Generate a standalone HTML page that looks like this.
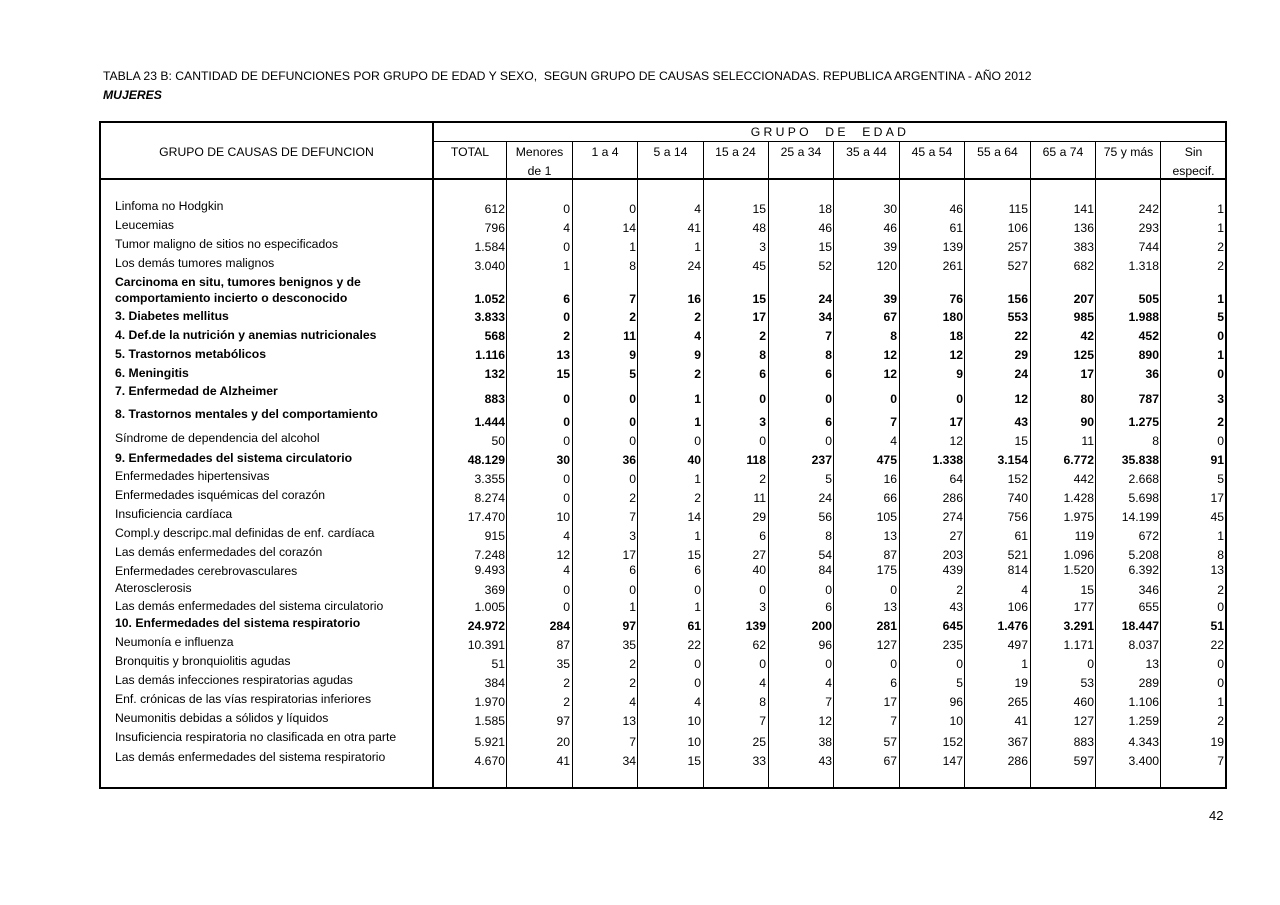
<!DOCTYPE html>
<html><head><meta charset="utf-8"><style>
body{margin:0;width:1280px;height:905px;background:#fff;position:relative;font-family:"Liberation Sans",sans-serif;font-size:12.2px;color:#000;overflow:hidden}
div{position:absolute}
.h{height:1px;background:#000}.v{width:1px;background:#000}
.t{white-space:nowrap;line-height:14px}
.l{left:115px}
.n span{position:absolute;text-align:right;white-space:nowrap;line-height:14px}
.b{font-weight:bold}
.n span:nth-child(1){left:433px;width:72px}
.n span:nth-child(2){left:507px;width:63px}
.n span:nth-child(3){left:572px;width:64px}
.n span:nth-child(4){left:638px;width:63px}
.n span:nth-child(5){left:703px;width:63px}
.n span:nth-child(6){left:768px;width:64px}
.n span:nth-child(7){left:834px;width:63px}
.n span:nth-child(8){left:899px;width:64px}
.n span:nth-child(9){left:965px;width:63px}
.n span:nth-child(10){left:1030px;width:64px}
.n span:nth-child(11){left:1096px;width:63px}
.n span:nth-child(12){left:1161px;width:63px}
.hc{text-align:center;line-height:14px}
</style></head><body>
<div class="t" style="left:103px;top:69px">TABLA 23 B: CANTIDAD DE DEFUNCIONES POR GRUPO DE EDAD Y SEXO,&nbsp; SEGUN GRUPO DE CAUSAS SELECCIONADAS. REPUBLICA ARGENTINA - AÑO 2012</div>
<div class="t" style="left:103px;top:88px;font-weight:bold;font-style:italic">MUJERES</div>

<div class="h" style="left:99px;top:121px;width:1128px;height:2px"></div>
<div class="h" style="left:433px;top:141px;width:794px"></div>
<div class="h" style="left:99px;top:178px;width:1128px;height:2px"></div>
<div class="h" style="left:99px;top:787px;width:1128px;height:2px"></div>
<div class="v" style="left:99px;top:121px;height:668px;width:2px"></div>
<div class="v" style="left:1225px;top:121px;height:668px;width:2px"></div>
<div class="v" style="left:432px;top:121px;height:668px;width:2px"></div>
<div class="v" style="left:506px;top:141px;height:647px"></div>
<div class="v" style="left:572px;top:141px;height:647px"></div>
<div class="v" style="left:637px;top:141px;height:647px"></div>
<div class="v" style="left:703px;top:141px;height:647px"></div>
<div class="v" style="left:768px;top:141px;height:647px"></div>
<div class="v" style="left:833px;top:141px;height:647px"></div>
<div class="v" style="left:899px;top:141px;height:647px"></div>
<div class="v" style="left:964px;top:141px;height:647px"></div>
<div class="v" style="left:1030px;top:141px;height:647px"></div>
<div class="v" style="left:1095px;top:141px;height:647px"></div>
<div class="v" style="left:1160px;top:141px;height:647px"></div>

<div class="hc" style="left:433px;width:794px;top:125px;letter-spacing:3.3px">GRUPO&nbsp; DE&nbsp; EDAD</div>
<div class="hc" style="left:100px;width:333px;top:145px">GRUPO DE CAUSAS DE DEFUNCION</div>
<div class="hc" style="left:433px;width:74px;top:145px">TOTAL</div>
<div class="hc" style="left:507px;width:65px;top:145px">Menores</div>
<div class="hc" style="left:507px;width:65px;top:164px">de 1</div>
<div class="hc" style="left:572px;width:66px;top:145px">1 a 4</div>
<div class="hc" style="left:638px;width:65px;top:145px">5 a 14</div>
<div class="hc" style="left:703px;width:65px;top:145px">15 a 24</div>
<div class="hc" style="left:768px;width:66px;top:145px">25 a 34</div>
<div class="hc" style="left:834px;width:65px;top:145px">35 a 44</div>
<div class="hc" style="left:899px;width:66px;top:145px">45 a 54</div>
<div class="hc" style="left:965px;width:65px;top:145px">55 a 64</div>
<div class="hc" style="left:1030px;width:66px;top:145px">65 a 74</div>
<div class="hc" style="left:1096px;width:65px;top:145px">75 y más</div>
<div class="hc" style="left:1161px;width:65px;top:145px">Sin</div>
<div class="hc" style="left:1161px;width:65px;top:164px">especif.</div>

<div class="t l" style="top:199px">Linfoma no Hodgkin</div>
<div class="n" style="top:202px"><span>612</span><span>0</span><span>0</span><span>4</span><span>15</span><span>18</span><span>30</span><span>46</span><span>115</span><span>141</span><span>242</span><span>1</span></div>
<div class="t l" style="top:218px">Leucemias</div>
<div class="n" style="top:221px"><span>796</span><span>4</span><span>14</span><span>41</span><span>48</span><span>46</span><span>46</span><span>61</span><span>106</span><span>136</span><span>293</span><span>1</span></div>
<div class="t l" style="top:237px">Tumor maligno de sitios no especificados</div>
<div class="n" style="top:240px"><span>1.584</span><span>0</span><span>1</span><span>1</span><span>3</span><span>15</span><span>39</span><span>139</span><span>257</span><span>383</span><span>744</span><span>2</span></div>
<div class="t l" style="top:256px">Los demás tumores malignos</div>
<div class="n" style="top:259px"><span>3.040</span><span>1</span><span>8</span><span>24</span><span>45</span><span>52</span><span>120</span><span>261</span><span>527</span><span>682</span><span>1.318</span><span>2</span></div>
<div class="t l b" style="top:275px">Carcinoma en situ, tumores benignos y de</div>
<div class="t l b" style="top:291px">comportamiento incierto o desconocido</div>
<div class="n b" style="top:292px"><span>1.052</span><span>6</span><span>7</span><span>16</span><span>15</span><span>24</span><span>39</span><span>76</span><span>156</span><span>207</span><span>505</span><span>1</span></div>
<div class="t l b" style="top:309px">3. Diabetes mellitus</div>
<div class="n b" style="top:310px"><span>3.833</span><span>0</span><span>2</span><span>2</span><span>17</span><span>34</span><span>67</span><span>180</span><span>553</span><span>985</span><span>1.988</span><span>5</span></div>
<div class="t l b" style="top:328px">4. Def.de la nutrición y anemias nutricionales</div>
<div class="n b" style="top:329px"><span>568</span><span>2</span><span>11</span><span>4</span><span>2</span><span>7</span><span>8</span><span>18</span><span>22</span><span>42</span><span>452</span><span>0</span></div>
<div class="t l b" style="top:347px">5. Trastornos metabólicos</div>
<div class="n b" style="top:348px"><span>1.116</span><span>13</span><span>9</span><span>9</span><span>8</span><span>8</span><span>12</span><span>12</span><span>29</span><span>125</span><span>890</span><span>1</span></div>
<div class="t l b" style="top:366px">6. Meningitis</div>
<div class="n b" style="top:367px"><span>132</span><span>15</span><span>5</span><span>2</span><span>6</span><span>6</span><span>12</span><span>9</span><span>24</span><span>17</span><span>36</span><span>0</span></div>
<div class="t l b" style="top:384px">7. Enfermedad de Alzheimer</div>
<div class="n b" style="top:392px"><span>883</span><span>0</span><span>0</span><span>1</span><span>0</span><span>0</span><span>0</span><span>0</span><span>12</span><span>80</span><span>787</span><span>3</span></div>
<div class="t l b" style="top:407px">8. Trastornos mentales y del comportamiento</div>
<div class="n b" style="top:415px"><span>1.444</span><span>0</span><span>0</span><span>1</span><span>3</span><span>6</span><span>7</span><span>17</span><span>43</span><span>90</span><span>1.275</span><span>2</span></div>
<div class="t l" style="top:431px">Síndrome de dependencia del alcohol</div>
<div class="n" style="top:434px"><span>50</span><span>0</span><span>0</span><span>0</span><span>0</span><span>0</span><span>4</span><span>12</span><span>15</span><span>11</span><span>8</span><span>0</span></div>
<div class="t l b" style="top:451px">9. Enfermedades del sistema circulatorio</div>
<div class="n b" style="top:453px"><span>48.129</span><span>30</span><span>36</span><span>40</span><span>118</span><span>237</span><span>475</span><span>1.338</span><span>3.154</span><span>6.772</span><span>35.838</span><span>91</span></div>
<div class="t l" style="top:469px">Enfermedades hipertensivas</div>
<div class="n" style="top:472px"><span>3.355</span><span>0</span><span>0</span><span>1</span><span>2</span><span>5</span><span>16</span><span>64</span><span>152</span><span>442</span><span>2.668</span><span>5</span></div>
<div class="t l" style="top:488px">Enfermedades isquémicas del corazón</div>
<div class="n" style="top:491px"><span>8.274</span><span>0</span><span>2</span><span>2</span><span>11</span><span>24</span><span>66</span><span>286</span><span>740</span><span>1.428</span><span>5.698</span><span>17</span></div>
<div class="t l" style="top:507px">Insuficiencia cardíaca</div>
<div class="n" style="top:510px"><span>17.470</span><span>10</span><span>7</span><span>14</span><span>29</span><span>56</span><span>105</span><span>274</span><span>756</span><span>1.975</span><span>14.199</span><span>45</span></div>
<div class="t l" style="top:526px">Compl.y descripc.mal definidas de enf. cardíaca</div>
<div class="n" style="top:529px"><span>915</span><span>4</span><span>3</span><span>1</span><span>6</span><span>8</span><span>13</span><span>27</span><span>61</span><span>119</span><span>672</span><span>1</span></div>
<div class="t l" style="top:545px">Las demás enfermedades del corazón</div>
<div class="n" style="top:548px"><span>7.248</span><span>12</span><span>17</span><span>15</span><span>27</span><span>54</span><span>87</span><span>203</span><span>521</span><span>1.096</span><span>5.208</span><span>8</span></div>
<div class="t l" style="top:564px">Enfermedades cerebrovasculares</div>
<div class="n" style="top:563px"><span>9.493</span><span>4</span><span>6</span><span>6</span><span>40</span><span>84</span><span>175</span><span>439</span><span>814</span><span>1.520</span><span>6.392</span><span>13</span></div>
<div class="t l" style="top:581px">Aterosclerosis</div>
<div class="n" style="top:583px"><span>369</span><span>0</span><span>0</span><span>0</span><span>0</span><span>0</span><span>0</span><span>2</span><span>4</span><span>15</span><span>346</span><span>2</span></div>
<div class="t l" style="top:599px">Las demás enfermedades del sistema circulatorio</div>
<div class="n" style="top:600px"><span>1.005</span><span>0</span><span>1</span><span>1</span><span>3</span><span>6</span><span>13</span><span>43</span><span>106</span><span>177</span><span>655</span><span>0</span></div>
<div class="t l b" style="top:616px">10. Enfermedades del sistema respiratorio</div>
<div class="n b" style="top:619px"><span>24.972</span><span>284</span><span>97</span><span>61</span><span>139</span><span>200</span><span>281</span><span>645</span><span>1.476</span><span>3.291</span><span>18.447</span><span>51</span></div>
<div class="t l" style="top:635px">Neumonía e influenza</div>
<div class="n" style="top:638px"><span>10.391</span><span>87</span><span>35</span><span>22</span><span>62</span><span>96</span><span>127</span><span>235</span><span>497</span><span>1.171</span><span>8.037</span><span>22</span></div>
<div class="t l" style="top:654px">Bronquitis y bronquiolitis agudas</div>
<div class="n" style="top:657px"><span>51</span><span>35</span><span>2</span><span>0</span><span>0</span><span>0</span><span>0</span><span>0</span><span>1</span><span>0</span><span>13</span><span>0</span></div>
<div class="t l" style="top:673px">Las demás infecciones respiratorias agudas</div>
<div class="n" style="top:676px"><span>384</span><span>2</span><span>2</span><span>0</span><span>4</span><span>4</span><span>6</span><span>5</span><span>19</span><span>53</span><span>289</span><span>0</span></div>
<div class="t l" style="top:692px">Enf. crónicas de las vías respiratorias inferiores</div>
<div class="n" style="top:695px"><span>1.970</span><span>2</span><span>4</span><span>4</span><span>8</span><span>7</span><span>17</span><span>96</span><span>265</span><span>460</span><span>1.106</span><span>1</span></div>
<div class="t l" style="top:711px">Neumonitis debidas a sólidos y líquidos</div>
<div class="n" style="top:714px"><span>1.585</span><span>97</span><span>13</span><span>10</span><span>7</span><span>12</span><span>7</span><span>10</span><span>41</span><span>127</span><span>1.259</span><span>2</span></div>
<div class="t l" style="top:730px">Insuficiencia respiratoria no clasificada en otra parte</div>
<div class="n" style="top:735px"><span>5.921</span><span>20</span><span>7</span><span>10</span><span>25</span><span>38</span><span>57</span><span>152</span><span>367</span><span>883</span><span>4.343</span><span>19</span></div>
<div class="t l" style="top:750px">Las demás enfermedades del sistema respiratorio</div>
<div class="n" style="top:754px"><span>4.670</span><span>41</span><span>34</span><span>15</span><span>33</span><span>43</span><span>67</span><span>147</span><span>286</span><span>597</span><span>3.400</span><span>7</span></div>

<div class="t" style="left:1209px;top:809px;font-size:13px">42</div>
</body></html>
